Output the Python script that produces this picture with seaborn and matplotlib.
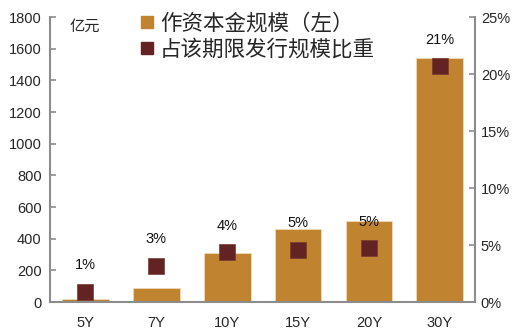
import matplotlib
matplotlib.use("Agg")
import matplotlib.pyplot as plt
import seaborn as sns
import pandas as pd
from matplotlib.lines import Line2D
from matplotlib.ticker import FuncFormatter

categories = ["5Y", "7Y", "10Y", "15Y", "20Y", "30Y"]
capital = [20, 90, 310, 460, 510, 1540]
share = [0.9, 3.2, 4.4, 4.6, 4.7, 20.7]
share_labels = ["1%", "3%", "4%", "5%", "5%", "21%"]
left_ticks = [0, 200, 400, 600, 800, 1000, 1200, 1400, 1600, 1800]
right_ticks = [0, 5, 10, 15, 20, 25]

sns.set_style("white")
plt.rcParams['font.family'] = ['Liberation Sans', 'Noto Sans CJK SC', 'DejaVu Sans']

bar_color = "#C08330"
mk_color = "#632322"
spine_color = "#8C8C8C"

df = pd.DataFrame({"cat": categories, "capital": capital, "share": share})

fig = plt.figure(figsize=(5.16, 3.36), dpi=100)
ax = fig.add_axes([0.097, 0.101, 0.824, 0.848])
sns.barplot(data=df, x="cat", y="capital", color=bar_color, width=0.66,
            saturation=1, ax=ax, edgecolor="#F3D9B8", linewidth=0.6)
ax.set_ylim(0, 1800)
ax.set_yticks(left_ticks)
ax.set_xlabel("")
ax.set_ylabel("")

ax2 = ax.twinx()
sns.scatterplot(data=df, x="cat", y="share", marker="s", s=120, color=mk_color,
                edgecolor="#7a3a36", linewidth=0.5, ax=ax2, zorder=5, legend=False)
ax2.set_ylim(0, 25)
ax2.set_yticks(right_ticks)
ax2.yaxis.set_major_formatter(FuncFormatter(lambda v, p: f"{int(v)}%"))
ax2.set_ylabel("")
ax.set_xlim(-0.5, len(categories) - 0.5)

for i, (v, lab) in enumerate(zip(share, share_labels)):
    ax2.annotate(lab, (i, v), xytext=(0, 19), textcoords="offset points",
                 ha="center", va="center", fontsize=10.5, color="#111111")

for a in (ax, ax2):
    a.spines["top"].set_visible(False)
    for s in ("left", "right", "bottom"):
        a.spines[s].set_color(spine_color)
        a.spines[s].set_linewidth(1.5)
ax.spines["right"].set_visible(False)
ax2.spines["left"].set_visible(False)
ax2.spines["bottom"].set_visible(False)

ax.tick_params(axis="y", direction="in", length=4, width=1.2, color=spine_color,
               labelsize=10.5, pad=6)
ax2.tick_params(axis="y", direction="in", length=4, width=1.2, color=spine_color,
                labelsize=10.5, pad=4)
ax.set_xticks(range(len(categories)))
ax.set_xticklabels(categories)
ax.tick_params(axis="x", length=0, labelsize=10.5, pad=10)
ax.set_xticks([i + 0.5 for i in range(len(categories) - 1)], minor=True)
ax.tick_params(axis="x", which="minor", direction="in", length=3, width=1.2,
               color=spine_color)

ax.text(0.047, 0.965, "亿元", transform=ax.transAxes, fontsize=11,
        va="center", ha="left")

handles = [
    Line2D([], [], marker="s", linestyle="none", color=bar_color, markersize=9),
    Line2D([], [], marker="s", linestyle="none", color=mk_color, markersize=9),
]
ax.legend(handles, ["作资本金规模（左）", "占该期限发行规模比重"], loc="upper left",
          bbox_to_anchor=(0.16, 1.08), frameon=False, fontsize=15.5,
          handletextpad=0.15, labelspacing=0.22, handlelength=0.9)

fig.savefig("out.png", dpi=100)
